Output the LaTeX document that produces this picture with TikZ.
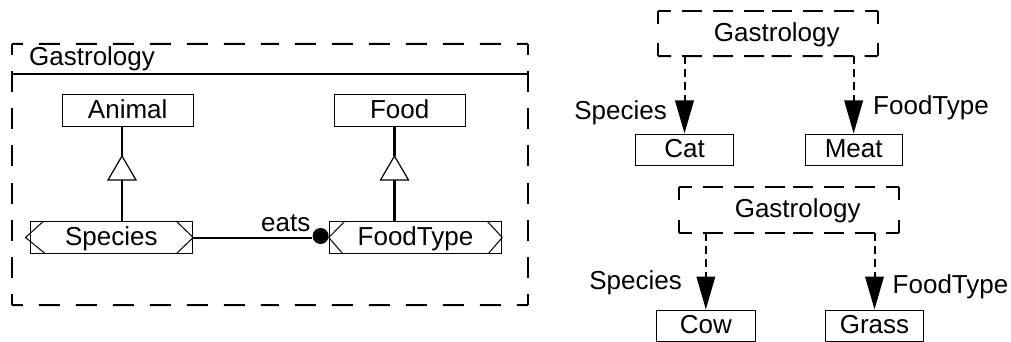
\documentclass[tikz,border=0pt]{standalone}
\usepackage{fontspec}
\setmainfont{Liberation Sans}
\usetikzlibrary{arrows.meta,calc}

\tikzset{
  lbl/.style={font=\fontsize{26}{31}\selectfont, inner sep=0pt},
  umlbox/.style={lbl, draw, line width=1pt, text height=18.6pt, text depth=3pt},
  pkgbox/.style={lbl, text height=18.6pt, text depth=3pt},
  bigframe/.style={line width=2pt, dash pattern=on 21pt off 16pt, dash phase=10pt},
  pkgframe/.style={line width=2pt, dash pattern=on 20pt off 11pt, dash phase=7pt},
  solidlink/.style={line width=2.4pt},
  assoc/.style={line width=2pt},
  gentri/.style={line width=1.2pt, fill=white},
  deplink/.style={line width=2pt, dash pattern=on 8pt off 5pt,
    -{Triangle[length=33pt,width=18.5pt]}},
  chev/.style={line width=1pt},
}

% dashed frame around a node, each side drawn from both corners toward its middle
\newcommand\dashframe[2]{%
  \foreach \a/\b in {north west/north east, north east/south east,
                     south east/south west, south west/north west}{
    \draw[#2] (#1.\a) -- ($(#1.\a)!0.5!(#1.\b)$);
    \draw[#2] (#1.\b) -- ($(#1.\a)!0.5!(#1.\b)$);
  }}

\begin{document}
\begin{tikzpicture}[x=1pt, y=-1pt]
\useasboundingbox (0,0) rectangle (1011,342);

% ---------- package Gastrology ----------
\node[minimum width=515.7pt, minimum height=261pt, inner sep=0pt] (pkg) at (269.85,174.5) {};
\dashframe{pkg}{bigframe}
\coordinate (hdr) at (0,74);
\draw[assoc] (pkg.west |- hdr) -- (pkg.east |- hdr);
\node[lbl, anchor=base west] (pkgname) at (29,66) {Gastrology};

\node[umlbox, minimum width=131.3pt, minimum height=31.7pt] (animal) at (127.7,110.2) {Animal};
\node[umlbox, minimum width=130.7pt, minimum height=32.4pt] (food) at (399.7,110.5) {Food};
\node[umlbox, minimum width=162.7pt, minimum height=31.6pt] (species) at (111.35,237.5) {Species};
\node[umlbox, minimum width=172.4pt, minimum height=31.6pt] (foodtype) at (415.5,237.5) {FoodType};

% chevrons on the powertype boxes
\draw[chev] ([xshift=14pt]species.north west) -- ([xshift=-4pt]species.west) -- ([xshift=16pt]species.south west);
\draw[chev] ([xshift=-17pt]species.north east) -- (species.east) -- ([xshift=-17pt]species.south east);
\draw[chev] ([xshift=16pt]foodtype.north west) -- (foodtype.west) -- ([xshift=14pt]foodtype.south west);
\draw[chev] ([xshift=-15pt]foodtype.north east) -- (foodtype.east) -- ([xshift=-14pt]foodtype.south east);

% generalizations
\coordinate (atip) at (122,156);
\draw[solidlink] (animal.south -| atip) -- (atip);
\draw[solidlink] ($(atip)+(0,24)$) -- (species.north -| atip);
\draw[gentri] (atip) -- ++(-14,24) -- ++(28,0) -- cycle;

\coordinate (ftip) at (394.5,156);
\draw[solidlink] (food.south -| ftip) -- (ftip);
\draw[solidlink] ($(ftip)+(0,24)$) -- (foodtype.north -| ftip);
\draw[gentri] (ftip) -- ++(-14,24) -- ++(28,0) -- cycle;

% association eats
\node[circle, fill, inner sep=0pt, minimum size=16pt, anchor=east] (dot) at ([yshift=1.5pt]foodtype.west) {};
\draw[assoc] (species.east) -- (species.east -| dot.west);
\node[lbl, anchor=base west] (eats) at (261,231.7) {eats};

% ---------- first instance ----------
\node[pkgbox, minimum width=219pt, minimum height=44.3pt] (pkgA) at (767.8,33.85) {\hspace*{18pt}Gastrology};
\dashframe{pkgA}{pkgframe}
\node[umlbox, minimum width=97.6pt, minimum height=31.7pt] (cat) at (684.5,149.85) {Cat};
\node[umlbox, minimum width=97.3pt, minimum height=31.7pt] (meat) at (853.65,149.85) {Meat};
\draw[deplink] (pkgA.south -| cat.north) -- (cat.north);
\draw[deplink] (pkgA.south -| meat.north) -- (meat.north);
\node[lbl, anchor=base east] (labA1) at (667,120) {Species};
\node[lbl, anchor=base west] (labA2) at (873,115) {FoodType};

% ---------- second instance ----------
\node[pkgbox, minimum width=219.7pt, minimum height=46pt] (pkgB) at (789.15,209.7) {\hspace*{17pt}Gastrology};
\dashframe{pkgB}{pkgframe}
\node[umlbox, minimum width=98.3pt, minimum height=31.5pt] (cow) at (705.85,325.75) {Cow};
\node[umlbox, minimum width=97.6pt, minimum height=31.5pt] (grass) at (874.5,325.75) {Grass};
\draw[deplink] (pkgB.south -| cow.north) -- (cow.north);
\draw[deplink] (pkgB.south -| grass.north) -- (grass.north);
\node[lbl, anchor=base east] (labB1) at (682,289) {Species};
\node[lbl, anchor=base west] (labB2) at (892.5,293) {FoodType};
\end{tikzpicture}
\end{document}
